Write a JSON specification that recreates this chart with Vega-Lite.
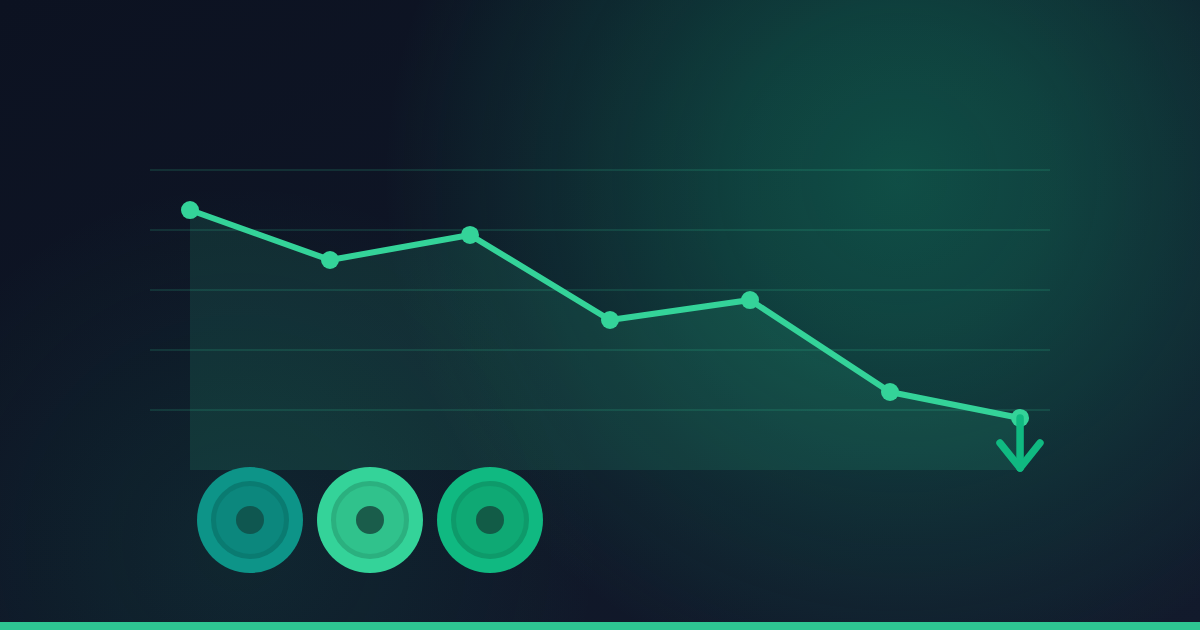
{
  "$schema": "https://vega.github.io/schema/vega-lite/v6.json",
  "description": "Declining trend line with area, gridlines, down arrow and three coins.",
  "width": 1200,
  "height": 630,
  "autosize": {"type": "fit", "contains": "padding"},
  "padding": 0,
  "background": "#0e1422",
  "config": {"view": {"stroke": null}},
  "datasets": {
    "trend": [
      {"period": 0, "value": 4.333},
      {"period": 1, "value": 3.5},
      {"period": 2, "value": 3.917},
      {"period": 3, "value": 2.5},
      {"period": 4, "value": 2.833},
      {"period": 5, "value": 1.3},
      {"period": 5.929, "value": 0.867}
    ],
    "grid": [
      {"level": 1}, {"level": 2}, {"level": 3}, {"level": 4}, {"level": 5}
    ],
    "arrow": [
      {"part": "stem", "step": 0, "period": 5.929, "value": 0.867},
      {"part": "stem", "step": 1, "period": 5.929, "value": 0.033},
      {"part": "head", "step": 0, "period": 5.786, "value": 0.45},
      {"part": "head", "step": 1, "period": 5.929, "value": 0.033},
      {"part": "head", "step": 2, "period": 6.071, "value": 0.45}
    ],
    "coins": [
      {"tone": "teal", "period": 0.4286, "value": -0.8333},
      {"tone": "mint", "period": 1.2857, "value": -0.8333},
      {"tone": "emerald", "period": 2.1429, "value": -0.8333}
    ]
  },
  "layer": [
    {
      "data": {"values": [{}]},
      "mark": {
        "type": "rect",
        "fill": {
          "gradient": "linear", "x1": 0, "y1": 0, "x2": 1, "y2": 1,
          "stops": [
            {"offset": 0, "color": "#0c1221"},
            {"offset": 1, "color": "#121a2c"}
          ]
        }
      },
      "encoding": {
        "x": {"value": 0}, "x2": {"value": "width"},
        "y": {"value": 0}, "y2": {"value": "height"}
      }
    },
    {
      "data": {"values": [{}]},
      "mark": {
        "type": "rect",
        "fill": {
          "gradient": "radial",
          "x1": 0.75, "y1": 0.3875, "r1": 0,
          "x2": 0.75, "y2": 0.3875, "r2": 0.43,
          "stops": [
            {"offset": 0, "color": "rgba(16,185,129,0.34)"},
            {"offset": 0.3, "color": "rgba(16,185,129,0.27)"},
            {"offset": 0.65, "color": "rgba(16,185,129,0.13)"},
            {"offset": 1, "color": "rgba(16,185,129,0)"}
          ]
        }
      },
      "encoding": {
        "x": {"value": 0}, "x2": {"value": "width"},
        "y": {"value": 0}, "y2": {"value": "height"}
      }
    },
    {
      "data": {"values": [{}]},
      "mark": {
        "type": "rect",
        "fill": {
          "gradient": "radial",
          "x1": 0.2, "y1": 0.69, "r1": 0,
          "x2": 0.2, "y2": 0.69, "r2": 0.3,
          "stops": [
            {"offset": 0, "color": "rgba(16,185,129,0.1)"},
            {"offset": 1, "color": "rgba(16,185,129,0)"}
          ]
        }
      },
      "encoding": {
        "x": {"value": 0}, "x2": {"value": "width"},
        "y": {"value": 0}, "y2": {"value": "height"}
      }
    },
    {
      "data": {"name": "grid"},
      "mark": {"type": "rule", "color": "#34d399", "opacity": 0.15, "strokeWidth": 2},
      "encoding": {
        "x": {"datum": -0.2857, "type": "quantitative", "axis": null,
              "scale": {"domain": [-1.3571, 7.2143], "nice": false, "zero": false}},
        "x2": {"datum": 6.1429},
        "y": {"field": "level", "type": "quantitative", "axis": null,
              "scale": {"domain": [-2.6667, 7.8333], "nice": false, "zero": false}}
      }
    },
    {
      "data": {"name": "trend"},
      "mark": {"type": "area", "color": "#34d399", "opacity": 0.12},
      "encoding": {
        "x": {"field": "period", "type": "quantitative", "axis": null,
              "scale": {"domain": [-1.3571, 7.2143], "nice": false, "zero": false}},
        "y": {"field": "value", "type": "quantitative", "axis": null,
              "scale": {"domain": [-2.6667, 7.8333], "nice": false, "zero": false}},
        "y2": {"datum": 0}
      }
    },
    {
      "data": {"name": "trend"},
      "mark": {"type": "line", "color": "#34d399", "strokeWidth": 6, "strokeCap": "round", "strokeJoin": "round"},
      "encoding": {
        "x": {"field": "period", "type": "quantitative", "axis": null,
              "scale": {"domain": [-1.3571, 7.2143], "nice": false, "zero": false}},
        "y": {"field": "value", "type": "quantitative", "axis": null,
              "scale": {"domain": [-2.6667, 7.8333], "nice": false, "zero": false}}
      }
    },
    {
      "data": {"name": "trend"},
      "mark": {"type": "circle", "color": "#34d399", "opacity": 1, "size": 324},
      "encoding": {
        "x": {"field": "period", "type": "quantitative", "axis": null,
              "scale": {"domain": [-1.3571, 7.2143], "nice": false, "zero": false}},
        "y": {"field": "value", "type": "quantitative", "axis": null,
              "scale": {"domain": [-2.6667, 7.8333], "nice": false, "zero": false}}
      }
    },
    {
      "data": {"name": "arrow"},
      "mark": {"type": "line", "color": "#10b981", "strokeWidth": 7.5, "strokeCap": "round", "strokeJoin": "round"},
      "encoding": {
        "x": {"field": "period", "type": "quantitative", "axis": null,
              "scale": {"domain": [-1.3571, 7.2143], "nice": false, "zero": false}},
        "y": {"field": "value", "type": "quantitative", "axis": null,
              "scale": {"domain": [-2.6667, 7.8333], "nice": false, "zero": false}},
        "detail": {"field": "part"},
        "order": {"field": "step"}
      }
    },
    {
      "data": {"name": "coins"},
      "mark": {"type": "circle", "opacity": 1, "size": 11236},
      "encoding": {
        "x": {"field": "period", "type": "quantitative", "axis": null,
              "scale": {"domain": [-1.3571, 7.2143], "nice": false, "zero": false}},
        "y": {"field": "value", "type": "quantitative", "axis": null,
              "scale": {"domain": [-2.6667, 7.8333], "nice": false, "zero": false}},
        "color": {"field": "tone", "type": "nominal", "legend": null,
                  "scale": {"domain": ["teal", "mint", "emerald"], "range": ["#0d9488", "#34d399", "#10b981"]}}
      }
    },
    {
      "data": {"name": "coins"},
      "mark": {"type": "circle", "opacity": 1, "size": 5329, "strokeWidth": 5},
      "encoding": {
        "x": {"field": "period", "type": "quantitative", "axis": null,
              "scale": {"domain": [-1.3571, 7.2143], "nice": false, "zero": false}},
        "y": {"field": "value", "type": "quantitative", "axis": null,
              "scale": {"domain": [-2.6667, 7.8333], "nice": false, "zero": false}},
        "fill": {"field": "tone", "type": "nominal", "legend": null,
                 "scale": {"domain": ["teal", "mint", "emerald"], "range": ["#0c877d", "#30c28c", "#0fa974"]}},
        "stroke": {"field": "tone", "type": "nominal", "legend": null,
                   "scale": {"domain": ["teal", "mint", "emerald"], "range": ["#0a7b71", "#2bb07f", "#0e9a6a"]}}
      }
    },
    {
      "data": {"name": "coins"},
      "mark": {"type": "circle", "opacity": 1, "size": 784},
      "encoding": {
        "x": {"field": "period", "type": "quantitative", "axis": null,
              "scale": {"domain": [-1.3571, 7.2143], "nice": false, "zero": false}},
        "y": {"field": "value", "type": "quantitative", "axis": null,
              "scale": {"domain": [-2.6667, 7.8333], "nice": false, "zero": false}},
        "color": {"field": "tone", "type": "nominal", "legend": null,
                  "scale": {"domain": ["teal", "mint", "emerald"], "range": ["#0f5750", "#1a5d4b", "#125c47"]}}
      }
    },
    {
      "data": {"values": [{}]},
      "mark": {"type": "rect", "color": "#2ec592", "opacity": 1},
      "encoding": {
        "x": {"value": 0}, "x2": {"value": "width"},
        "y": {"datum": -2.5333, "type": "quantitative",
              "scale": {"domain": [-2.6667, 7.8333], "nice": false, "zero": false}},
        "y2": {"datum": -2.6667}
      }
    }
  ],
  "resolve": {"scale": {"color": "independent", "fill": "independent", "stroke": "independent"}}
}
